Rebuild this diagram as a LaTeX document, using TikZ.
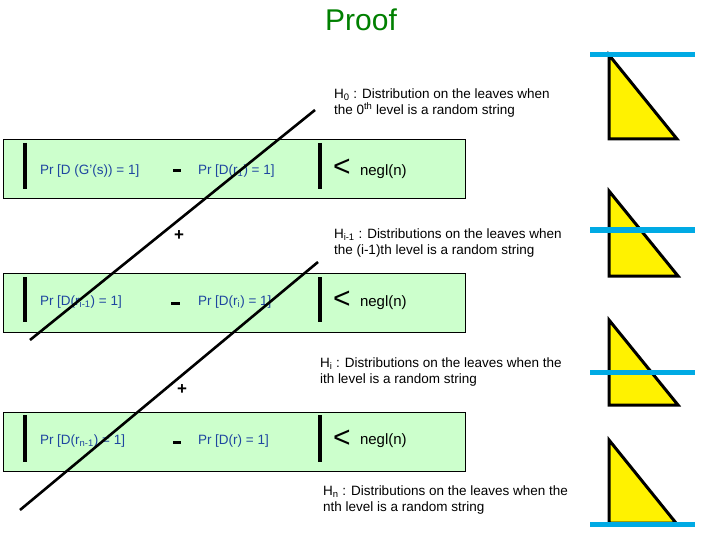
\documentclass[tikz,border=0pt]{standalone}
\usepackage{fontspec}
\setmainfont{Liberation Sans}
\definecolor{boxgreen}{RGB}{204,255,204}
\definecolor{prblue}{RGB}{30,70,160}
\definecolor{leafblue}{RGB}{0,170,228}
\definecolor{titlegreen}{RGB}{0,128,0}
\begin{document}
\begin{tikzpicture}[x=1pt,y=-1pt,
  every node/.style={inner sep=0pt, outer sep=0pt},
  probbox/.style={draw=black, line width=0.9pt, fill=boxgreen, minimum width=462pt, minimum height=59pt, anchor=north west},
  prtext/.style={anchor=west, text=prblue, font=\fontsize{13.5}{16}\selectfont},
  absbar/.style={line width=4pt, black},
  minusbar/.style={line width=3pt, black},
  lt/.style={font=\fontsize{30}{30}\selectfont},
  negl/.style={anchor=west, font=\fontsize{15}{18}\selectfont},
  plus/.style={font=\fontsize{17}{17}\selectfont\bfseries},
  hyp/.style={anchor=north west, align=left, font=\fontsize{13.5}{16}\selectfont},
  cut/.style={line width=2.6pt, black},
  tri/.style={draw=black, fill=yellow, line width=3pt},
  leaf/.style={line width=5pt, leafblue}]
\useasboundingbox[fill=white] (0,0) rectangle (720,540);

% title
\node[text=titlegreen, font=\fontsize{30}{30}\selectfont] (title) at (361,20) {Proof};

% boxes
\node[probbox] (b1) at (3,139) {};
\node[probbox] (b2) at (3,273) {};
\node[probbox] (b3) at (3,412) {};

% bars
\draw[absbar] (25,143) -- (25,189);
\draw[absbar] (320,143) -- (320,189);
\draw[absbar] (25,277) -- (25,322);
\draw[absbar] (320,277) -- (320,322);
\draw[absbar] (25,415) -- (25,462);
\draw[absbar] (320,415) -- (320,462);

% minus signs
\draw[minusbar] (173,171) -- (181,171);
\draw[minusbar] (171,303) -- (180,303);
\draw[minusbar] (173,442) -- (181,442);

% box 1
\node[prtext] (p1a) at (40,171) {Pr [D (G'(s)) = 1]};
\node[prtext] (p1b) at (198,171) {Pr [D(r\textsubscript{1}) = 1]};
\node[lt] (lt1) at (342,168) {<};
\node[negl] (n1) at (360,172) {negl(n)};

% box 2
\node[prtext] (p2a) at (40,302) {Pr [D(r\textsubscript{i-1}) = 1]};
\node[prtext] (p2b) at (198,302) {Pr [D(r\textsubscript{i}) = 1]};
\node[lt] (lt2) at (342,300) {<};
\node[negl] (n2) at (360,303) {negl(n)};

% box 3
\node[prtext] (p3a) at (40,441) {Pr [D(r\textsubscript{n-1}) = 1]};
\node[prtext] (p3b) at (198,441) {Pr [D(r) = 1]};
\node[lt] (lt3) at (342,439) {<};
\node[negl] (n3) at (360,441) {negl(n)};

% plus signs
\node[plus] (pl1) at (179,236) {+};
\node[plus] (pl2) at (182,390) {+};

% hybrid descriptions
\node[hyp] (h0) at (334,89) {H\textsubscript{0} : Distribution on the leaves when\\the 0\textsuperscript{th} level is a random string};
\node[hyp] (hi1) at (334,229) {H\textsubscript{i-1} : Distributions on the leaves when\\the (i-1)th level is a random string};
\node[hyp] (hi) at (320,358) {H\textsubscript{i} : Distributions on the leaves when the\\ith level  is a random string};
\node[hyp] (hn) at (323,486) {H\textsubscript{n} : Distributions on the leaves when the\\nth level is a random string};

% cutting lines
\coordinate (c1a) at (315,110);
\coordinate (c1b) at (30,340);
\coordinate (c2a) at (318,262);
\coordinate (c2b) at (20,510);
\draw[cut] (c1a) -- (c1b);
\draw[cut] (c2a) -- (c2b);

% triangles
\draw[tri] (609,55) -- (609,139) -- (677,139) -- cycle;
\draw[tri] (609,191) -- (609,276) -- (678,276) -- cycle;
\draw[tri] (609,320) -- (609,405) -- (678,405) -- cycle;
\draw[tri] (609,440) -- (609,523) -- (676,523) -- cycle;

% leaf levels
\draw[leaf] (590,55) -- (695,55);
\draw[leaf] (590,230) -- (695,230);
\draw[leaf] (590,372) -- (695,372);
\draw[leaf] (590,524) -- (695,524);
\end{tikzpicture}
\end{document}
